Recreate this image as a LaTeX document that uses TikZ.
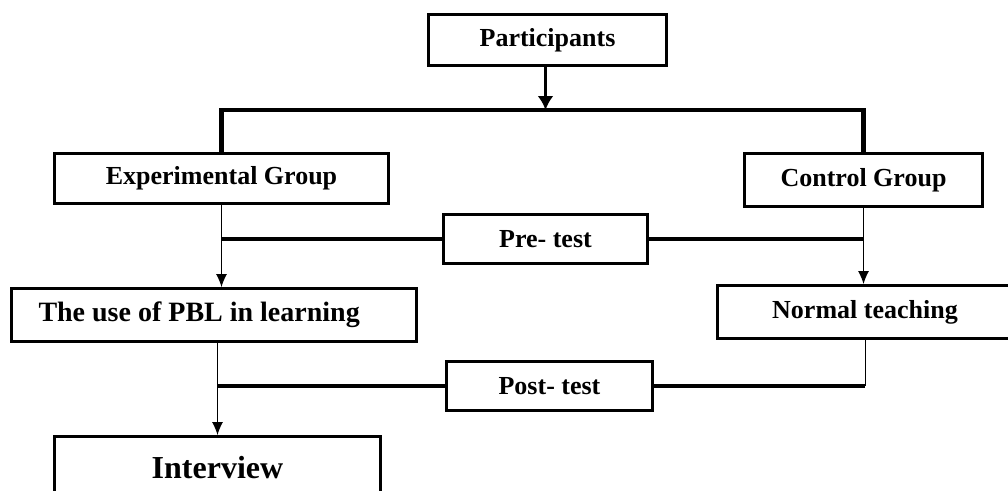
\documentclass[tikz,border=0pt]{standalone}
\usepackage{fontspec}
\setmainfont{Liberation Serif}
\usepackage{tikz}
\usetikzlibrary{arrows.meta,positioning}

\begin{document}
\begin{tikzpicture}[x=1pt,y=-1pt,
  box/.style={draw, line width=3pt, inner sep=0pt, font=\bfseries\fontsize{26}{30}\selectfont},
  thickline/.style={line width=4.5pt},
  thinline/.style={line width=1pt, -{Latex[length=13pt,width=11pt]}}]

  \clip (0,0) rectangle (1008,490);

  % boxes
  \node[box, minimum width=238, minimum height=51] (part) at (547.5,40) {Participants};
  \node[box, minimum width=334, minimum height=50] (exp) at (221.5,178.5) {Experimental Group};
  \node[box, minimum width=238, minimum height=53] (ctrl) at (863.5,180) {Control Group};
  \node[box, minimum width=204, minimum height=49] (pre) at (545.5,239) {Pre- test};
  \node[box, minimum height=53, inner xsep=27, text width=351, align=flush left,
        font=\bfseries\fontsize{28}{32}\selectfont] (pbl) at (214,315) {The use of PBL in learning};
  \node[box, minimum width=295, minimum height=53] (normal) at (865,312) {Normal teaching};
  \node[box, minimum width=206, minimum height=49] (post) at (549.5,386) {Post- test};
  \node[box, minimum width=326, minimum height=63, font=\bfseries\fontsize{32}{36}\selectfont] (inter) at (217.5,468) {Interview};

  % split into the two groups
  \coordinate (bar) at (545.5,110);
  \draw[line width=3pt, -{Latex[length=14pt,width=16pt]}] (part.south -| bar) -- (bar);
  \draw[thickline] (exp.north) |- (bar) -| (ctrl.north);

  % group arrows
  \draw[thinline] (exp.south) -- (exp.south |- pbl.north);
  \draw[thinline] (ctrl.south) -- (ctrl.south |- normal.north);
  \draw[thinline] (inter.north |- pbl.south) -- (inter.north);
  \draw[line width=1pt] (normal.south) -- (normal.south |- post.east);

  % tests
  \draw[thickline] (pre.west -| exp.south) -- (pre.west);
  \draw[thickline] (pre.east) -- (pre.east -| ctrl.south);
  \draw[thickline] (post.west -| inter.north) -- (post.west);
  \draw[thickline] (post.east) -- (post.east -| normal.south);

\end{tikzpicture}
\end{document}
